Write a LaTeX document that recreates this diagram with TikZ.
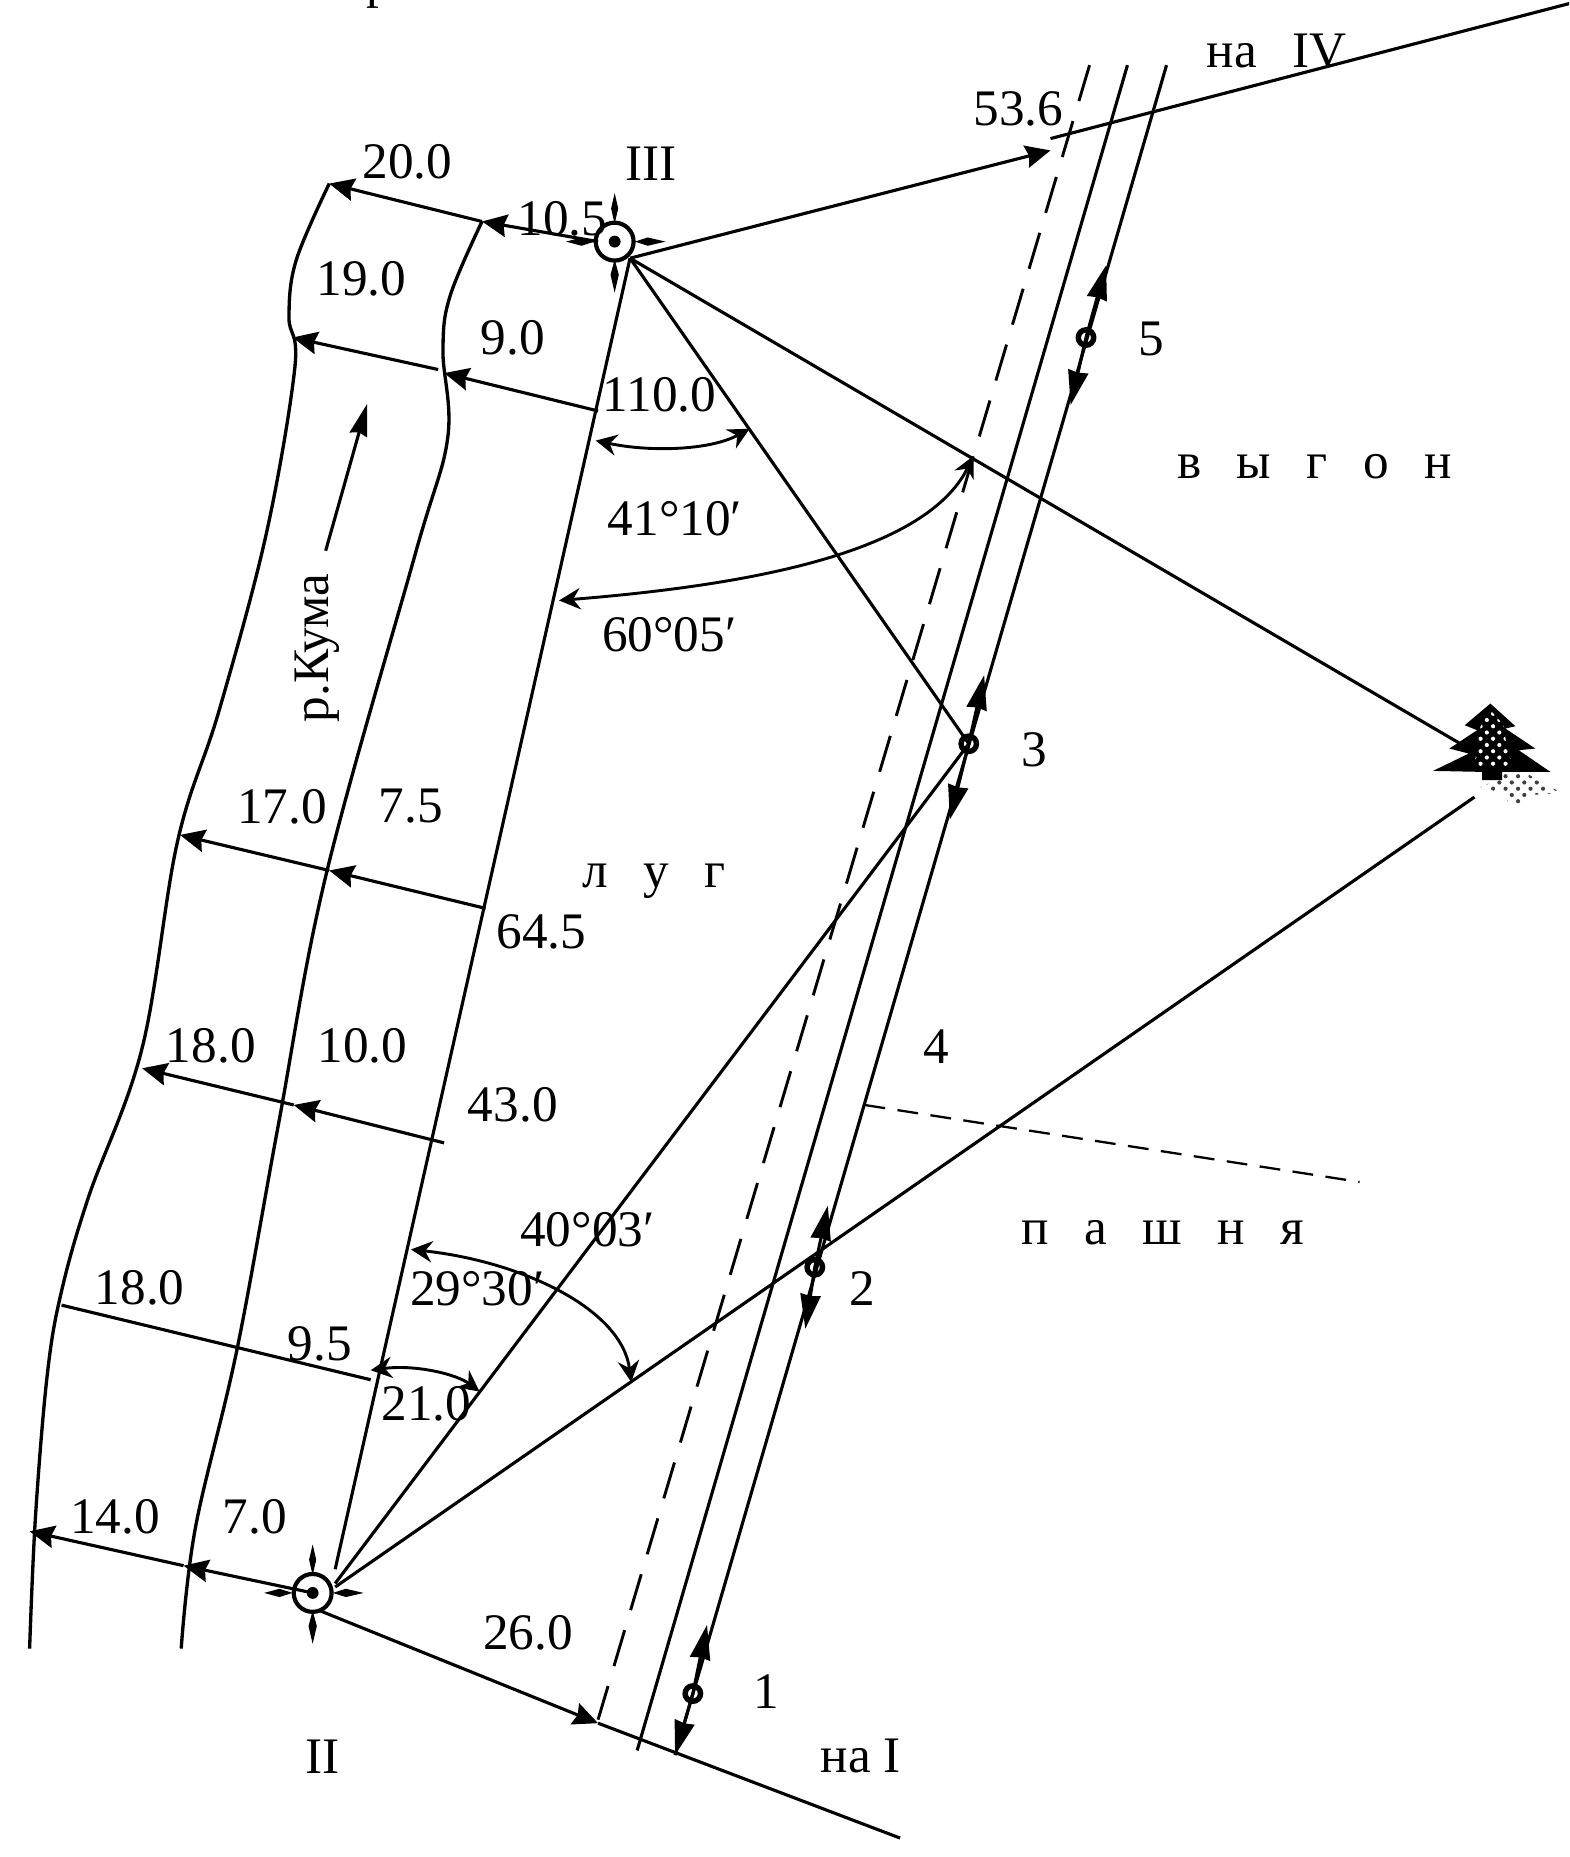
\documentclass[tikz,border=0pt]{standalone}
\usepackage{fontspec}
\setmainfont{Liberation Serif}
\usetikzlibrary{arrows.meta,patterns}
\tikzset{
  ln/.style={line width=0.75pt,black},
  bank/.style={line width=0.8pt,black,line join=round},
  off/.style={ln,-{Stealth[length=0.21cm,width=0.19cm,inset=0.025cm]}},
  trav/.style={ln,-{Stealth[length=0.29cm,width=0.17cm,inset=0.01cm]}},
  flow/.style={ln,-{Stealth[length=0.27cm,width=0.15cm,inset=0.02cm]}},
  arcarrow/.style={line width=0.7pt,black,{Stealth[length=0.18cm,width=0.18cm,inset=0.06cm]}-{Stealth[length=0.18cm,width=0.18cm,inset=0.06cm]}},
  road dash/.style={line width=0.7pt,dash pattern=on 9pt off 5pt},
  field dash/.style={line width=0.55pt,dash pattern=on 5pt off 3pt},
  lbl/.style={font=\fontsize{12.3pt}{13pt}\selectfont,inner sep=0pt,text=black},
  peg/.style={circle,draw=black,line width=1.3pt,minimum size=0.13cm,inner sep=0pt},
  station/.pic={
    \draw[line width=1pt] (0,0) circle (16);
    \fill (0,0) circle (5);
    \fill (0,-41) -- (3,-28) -- (0,-15) -- (-3,-28) -- cycle;
    \fill (0,43) -- (3.5,28) -- (0,15) -- (-3.5,28) -- cycle;
    \fill (43,0) -- (28,-3.5) -- (17,0) -- (28,3.5) -- cycle;
    \fill (-41,0) -- (-28,-3.5) -- (-17,0) -- (-28,3.5) -- cycle;
  }
}
\newcommand{\lsp}{\hspace{0.3cm}}
\begin{document}
\begin{tikzpicture}[x=0.01cm,y=-0.01cm]
\useasboundingbox (0,0) rectangle (1325,1568);
\clip (0,0) rectangle (1325,1568);
\fill[white] (0,0) rectangle (1325,1568);

% ---- named points
\coordinate (III) at (519,204);
\coordinate (II) at (264,1345);
\coordinate (baseT) at (532,218);
\coordinate (baseB) at (283,1325);
\coordinate (p1) at (585,1430);
\coordinate (p2) at (688,1070);
\coordinate (p3) at (818,628);
\coordinate (p5) at (917,285);
\coordinate (p1u) at (597,1372);
\coordinate (p2u) at (699,1018);
\coordinate (p2d) at (680,1122);
\coordinate (p3u) at (831,570);
\coordinate (p3d) at (802,692);
\coordinate (p5u) at (934,224);
\coordinate (p5d) at (904,342);
\coordinate (trT) at (985,55);
\coordinate (trB) at (570,1482);
\coordinate (rdT) at (952,55);
\coordinate (rdB) at (538,1478);
\coordinate (dsT) at (920,55);
\coordinate (dsB) at (505,1452);
\coordinate (treeA) at (1240,632);
\coordinate (treeB) at (1245,673);
\coordinate (rayII) at (283,1337);
\coordinate (rayIIb) at (283,1340);
\coordinate (n53) at (887,127);
\coordinate (ivS) at (887,117);
\coordinate (ivE) at (1325,3);
\coordinate (iS) at (270,1360);
\coordinate (iA) at (505,1455);
\coordinate (iE) at (760,1552);
\coordinate (fdS) at (730,933);
\coordinate (fdE) at (1148,998);

% ---- river banks
\draw[bank] plot[smooth,tension=0.6] coordinates {(25,1392) (30,1280) (40,1160) (52,1090) (75,1010) (120,885) (150,710) (185,600) (225,450) (249,310) (244,268) (250,220) (278,155)};
\draw[bank] plot[smooth,tension=0.6] coordinates {(153,1392) (165,1290) (200,1140) (235,950) (275,740) (350,470) (378,370) (374,296) (380,250) (407,187)};

% ---- base line
\draw[ln] (baseT) -- (baseB);

% ---- offsets
\coordinate (a0) at (505,204); \coordinate (a1) at (407,187); \coordinate (a2) at (278,155);
\coordinate (b0) at (505,347); \coordinate (b1) at (375,315); \coordinate (b2) at (370,312); \coordinate (b3) at (247,285);
\coordinate (c0) at (410,767); \coordinate (c1) at (278,735); \coordinate (c2) at (152,705);
\coordinate (d0) at (375,965); \coordinate (d1) at (248,933); \coordinate (d2) at (120,902);
\coordinate (e0) at (313,1165); \coordinate (e1) at (52,1102);
\coordinate (f1) at (155,1322); \coordinate (f2) at (25,1293);
\draw[off] (a0) -- (a1);
\draw[off] (a1) -- (a2);
\draw[off] (b0) -- (b1);
\draw[off] (b2) -- (b3);
\draw[off] (c0) -- (c1);
\draw[off] (c1) -- (c2);
\draw[off] (d0) -- (d1);
\draw[off] (d1) -- (d2);
\draw[ln] (e0) -- (e1);
\draw[off] (II) -- (f1);
\draw[off] (f1) -- (f2);

% ---- road
\draw[road dash] (dsT) -- (dsB);
\draw[ln] (rdT) -- (rdB);
\draw[ln] (trT) -- (trB);

% ---- sight lines
\draw[ln] (baseT) -- (treeA);
\draw[ln] (baseT) -- (p3);
\draw[off] (baseT) -- (n53);
\draw[ln] (ivS) -- (ivE);
\draw[ln] (rayII) -- (p3);
\draw[ln] (rayIIb) -- (treeB);
\draw[off] (iS) -- (iA);
\draw[ln] (iA) -- (iE);
\draw[field dash] (fdS) -- (fdE);

% ---- traverse arrows
\draw[trav] (p1) -- (p1u);
\draw[trav] (p1) -- (trB);
\draw[trav] (p2) -- (p2u);
\draw[trav] (p2) -- (p2d);
\draw[trav] (p3) -- (p3u);
\draw[trav] (p3) -- (p3d);
\draw[trav] (p5) -- (p5u);
\draw[trav] (p5) -- (p5d);
\node[peg] (m1) at (p1) {};
\node[peg] (m2) at (p2) {};
\node[peg] (m3) at (p3) {};
\node[peg] (m5) at (p5) {};

% ---- angle arcs
\coordinate (u1) at (633,362); \coordinate (u2) at (503,372);
\coordinate (v1) at (822,385); \coordinate (v2) at (472,507);
\coordinate (w1) at (347,1055); \coordinate (w2) at (533,1167);
\coordinate (z1) at (313,1157); \coordinate (z2) at (405,1175);
\draw[arcarrow] (u2) .. controls (550,382) and (600,380) .. (u1);
\draw[arcarrow] (v2) .. controls (620,495) and (780,470) .. (v1);
\draw[arcarrow] (w1) .. controls (440,1065) and (525,1105) .. (w2);
\draw[arcarrow] (z1) .. controls (350,1152) and (385,1160) .. (z2);

% ---- stations
\pic at (III) {station};
\pic at (II) {station};

% ---- tree
\begin{scope}[shift={(1098,549)},scale=0.2815]
\fill[pattern=crosshatch dots,pattern color=black!75] (610,370) -- (680,370) -- (730,400) -- (785,428) -- (680,435) -- (660,462) -- (625,460) -- (610,430) -- (540,410) -- (600,385) -- cycle;
\fill (570,160) -- (645,228) -- (615,235) -- (705,295) -- (655,300) -- (750,365) -- (605,365) -- (605,390) -- (545,390) -- (545,365) -- (398,362) -- (505,310) -- (447,295) -- (530,240) -- (493,225) -- cycle;
\fill[pattern=crosshatch dots,pattern color=white] (570,180) -- (610,225) -- (620,300) -- (640,350) -- (520,350) -- (530,300) -- (540,230) -- cycle;
\end{scope}

% ---- labels
\node[lbl,anchor=base] (top) at (320,-2) {р};
\node[lbl] (tIV) at (1078,43) {на\lsp IV};
\node[lbl] (t536) at (860,92) {53.6};
\node[lbl] (tIIIl) at (550,138) {III};
\node[lbl] (tIIl) at (272,1483) {II};
\node[lbl] (tIl) at (727,1483) {на I};
\node[lbl] (t200) at (344,137) {20.0};
\node[lbl] (t105) at (475,185) {10.5};
\node[lbl] (t190) at (305,235) {19.0};
\node[lbl] (t90) at (433,285) {9.0};
\node[lbl] (t1100) at (557,333) {110.0};
\node[lbl] (tA1) at (570,438) {41°10′};
\node[lbl] (tA2) at (565,536) {60°05′};
\node[lbl] (tv) at (1110,394) {в\lsp ы\lsp г\lsp о\lsp н};
\node[lbl] (tl) at (552,744) {л\lsp у\lsp г};
\node[lbl] (tp) at (982,1041) {п\lsp а\lsp ш\lsp н\lsp я};
\node[lbl] (t170) at (238,681) {17.0};
\node[lbl] (t75) at (347,681) {7.5};
\node[lbl] (t645) at (457,787) {64.5};
\node[lbl] (t180) at (178,883) {18.0};
\node[lbl] (t100) at (306,883) {10.0};
\node[lbl] (t430) at (433,933) {43.0};
\node[lbl] (t180b) at (118,1087) {18.0};
\node[lbl] (t95) at (270,1135) {9.5};
\node[lbl] (t210) at (360,1185) {21.0};
\node[lbl] (tA3) at (496,1038) {40°03′};
\node[lbl] (tA4) at (403,1088) {29°30′};
\node[lbl] (t70) at (215,1281) {7.0};
\node[lbl] (t140) at (97,1281) {14.0};
\node[lbl] (t260) at (446,1379) {26.0};
\node[lbl,rotate=90] (tK) at (268,547) {р.Кума};
\node[lbl] (n1) at (647,1428) {1};
\node[lbl] (n2) at (728,1088) {2};
\node[lbl] (n3) at (873,633) {3};
\node[lbl] (n4) at (791,884) {4};
\node[lbl] (n5) at (972,286) {5};

% ---- river flow arrow
\coordinate (fa) at (275,465); \coordinate (fb) at (310,341);
\draw[flow] (fa) -- (fb);
\end{tikzpicture}
\end{document}
